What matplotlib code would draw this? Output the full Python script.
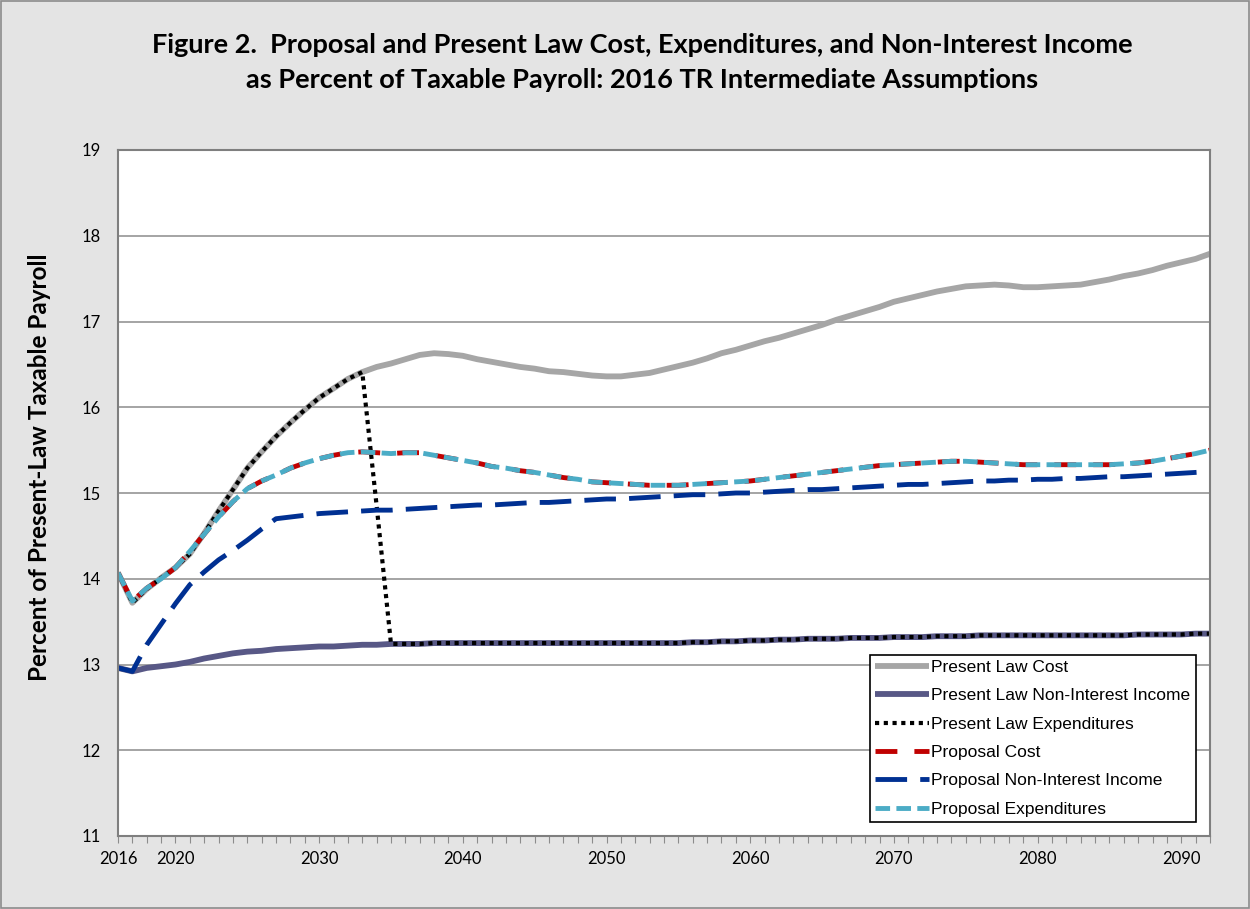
import matplotlib.pyplot as plt
from matplotlib.patches import Rectangle

years = list(range(2016, 2093))

present_law_cost = [
    14.07, 13.72, 13.88, 14.01, 14.13, 14.29, 14.53, 14.79, 15.04, 15.29,
    15.48, 15.66, 15.82, 15.97, 16.11, 16.22, 16.33, 16.41, 16.47, 16.51,
    16.56, 16.61, 16.63, 16.62, 16.60, 16.56, 16.53, 16.50, 16.47, 16.45,
    16.42, 16.41, 16.39, 16.37, 16.36, 16.36, 16.38, 16.40, 16.44, 16.48,
    16.52, 16.57, 16.63, 16.67, 16.72, 16.77, 16.81, 16.86, 16.91, 16.96,
    17.02, 17.07, 17.12, 17.17, 17.23, 17.27, 17.31, 17.35, 17.38, 17.41,
    17.42, 17.43, 17.42, 17.40, 17.40, 17.41, 17.42, 17.43, 17.46, 17.49,
    17.53, 17.56, 17.60, 17.65, 17.69, 17.73, 17.79,
]

present_law_income = [
    12.96, 12.92, 12.96, 12.98, 13.00, 13.03, 13.07, 13.10, 13.13, 13.15,
    13.16, 13.18, 13.19, 13.20, 13.21, 13.21, 13.22, 13.23, 13.23, 13.24,
    13.24, 13.24, 13.25, 13.25, 13.25, 13.25, 13.25, 13.25, 13.25, 13.25,
    13.25, 13.25, 13.25, 13.25, 13.25, 13.25, 13.25, 13.25, 13.25, 13.25,
    13.26, 13.26, 13.27, 13.27, 13.28, 13.28, 13.29, 13.29, 13.30, 13.30,
    13.30, 13.31, 13.31, 13.31, 13.32, 13.32, 13.32, 13.33, 13.33, 13.33,
    13.34, 13.34, 13.34, 13.34, 13.34, 13.34, 13.34, 13.34, 13.34, 13.34,
    13.34, 13.35, 13.35, 13.35, 13.35, 13.36, 13.36,
]

# present law expenditures: cost until 2033, then payable benefits
present_law_exp = present_law_cost[:18] + [14.85] + present_law_income[19:]

proposal_cost = [
    14.07, 13.74, 13.89, 14.00, 14.13, 14.32, 14.52, 14.72, 14.90, 15.05,
    15.14, 15.21, 15.29, 15.35, 15.40, 15.44, 15.47, 15.48, 15.47, 15.46,
    15.47, 15.47, 15.44, 15.41, 15.38, 15.35, 15.31, 15.29, 15.26, 15.24,
    15.21, 15.18, 15.16, 15.13, 15.12, 15.11, 15.10, 15.09, 15.09, 15.09,
    15.10, 15.11, 15.12, 15.13, 15.14, 15.16, 15.18, 15.20, 15.22, 15.24,
    15.26, 15.28, 15.30, 15.32, 15.33, 15.34, 15.35, 15.36, 15.37, 15.37,
    15.36, 15.35, 15.34, 15.33, 15.33, 15.33, 15.33, 15.33, 15.33, 15.33,
    15.34, 15.35, 15.37, 15.40, 15.43, 15.46, 15.50,
]

proposal_exp = list(proposal_cost)

proposal_income = [
    12.96, 12.92, 13.23, 13.47, 13.71, 13.93, 14.08, 14.22, 14.33, 14.45,
    14.58, 14.70, 14.72, 14.74, 14.76, 14.77, 14.78, 14.79, 14.80, 14.80,
    14.81, 14.82, 14.83, 14.84, 14.85, 14.86, 14.86, 14.87, 14.88, 14.89,
    14.89, 14.90, 14.91, 14.92, 14.93, 14.93, 14.94, 14.95, 14.96, 14.97,
    14.98, 14.98, 14.99, 15.00, 15.00, 15.01, 15.02, 15.03, 15.04, 15.04,
    15.05, 15.06, 15.07, 15.08, 15.09, 15.10, 15.10, 15.11, 15.12, 15.13,
    15.14, 15.14, 15.15, 15.15, 15.16, 15.16, 15.17, 15.17, 15.18, 15.19,
    15.19, 15.20, 15.21, 15.22, 15.23, 15.24, 15.25,
]

label_years = [2016, 2020, 2030, 2040, 2050, 2060, 2070, 2080, 2090]

fig = plt.figure(figsize=(12.5, 9.09), dpi=100, facecolor="#e4e4e4")
fig.patches.append(Rectangle((0.001, 0.001), 0.998, 0.998, transform=fig.transFigure,
                             fill=False, edgecolor="#8c8c8c", lw=1.2))
ax = fig.add_axes([118 / 1250, 1 - 836 / 909, (1210 - 118) / 1250, (836 - 150) / 909])
ax.set_facecolor("white")

ax.plot(years, present_law_cost, color="#a6a6a6", lw=4.2, solid_capstyle="butt",
        label="Present Law Cost")
ax.plot(years, present_law_income, color="#585886", lw=4.2, solid_capstyle="butt",
        label="Present Law Non-Interest Income")
ax.plot(years, present_law_exp, color="black", lw=3, dashes=(1, 1.1),
        label="Present Law Expenditures")
ax.plot(years, proposal_cost, color="#c00000", lw=3.5, dashes=(4.5, 3.5),
        label="Proposal Cost")
ax.plot(years, proposal_income, color="#003092", lw=3.5, dashes=(6.5, 2.7),
        label="Proposal Non-Interest Income")
ax.plot(years, proposal_exp, color="#4bacc6", lw=3.5, dashes=(3, 1.3),
        label="Proposal Expenditures")

ax.set_xlim(2016, 2092)
ax.set_ylim(11, 19)
ax.set_yticks(range(11, 20))
ax.set_xticks(years)
ax.set_xticklabels([str(y) if y in label_years else "" for y in years])
ax.grid(axis="y", color="#8c8c8c", lw=1.1)
ax.set_axisbelow(True)
for s in ax.spines.values():
    s.set_color("#7f7f7f")
    s.set_linewidth(1.5)
ax.tick_params(axis="x", length=5, color="#8c8c8c", direction="out", pad=6,
               labelsize=12)
ax.tick_params(axis="y", length=0, pad=12, labelsize=12)
for t in ax.get_xticklabels() + ax.get_yticklabels():
    t.set_fontfamily("Lato")

fig.text(40 / 1250, 1 - 467 / 909, "Percent of Present-Law Taxable Payroll", rotation=90,
         ha="center", va="center", fontsize=17.5, fontweight="bold", family="Lato")

fig.text(0.514, 1 - 45 / 909, "Figure 2.  Proposal and Present Law Cost, Expenditures, and Non-Interest Income",
         ha="center", va="center", fontsize=19.5, fontweight="bold", family="Lato")
fig.text(0.514, 1 - 80 / 909, "as Percent of Taxable Payroll: 2016 TR Intermediate Assumptions",
         ha="center", va="center", fontsize=19.5, fontweight="bold", family="Lato")

leg = ax.legend(loc="lower right", bbox_to_anchor=(0.987, 0.0204), frameon=True,
                fancybox=False, edgecolor="black", framealpha=1,
                prop={"family": "Liberation Sans", "size": 12.5},
                handlelength=3.1, handletextpad=0.15, labelspacing=0.76,
                borderpad=0.3, borderaxespad=0)
leg.get_frame().set_linewidth(1.2)

fig.savefig("out.png", dpi=100, facecolor=fig.get_facecolor())
